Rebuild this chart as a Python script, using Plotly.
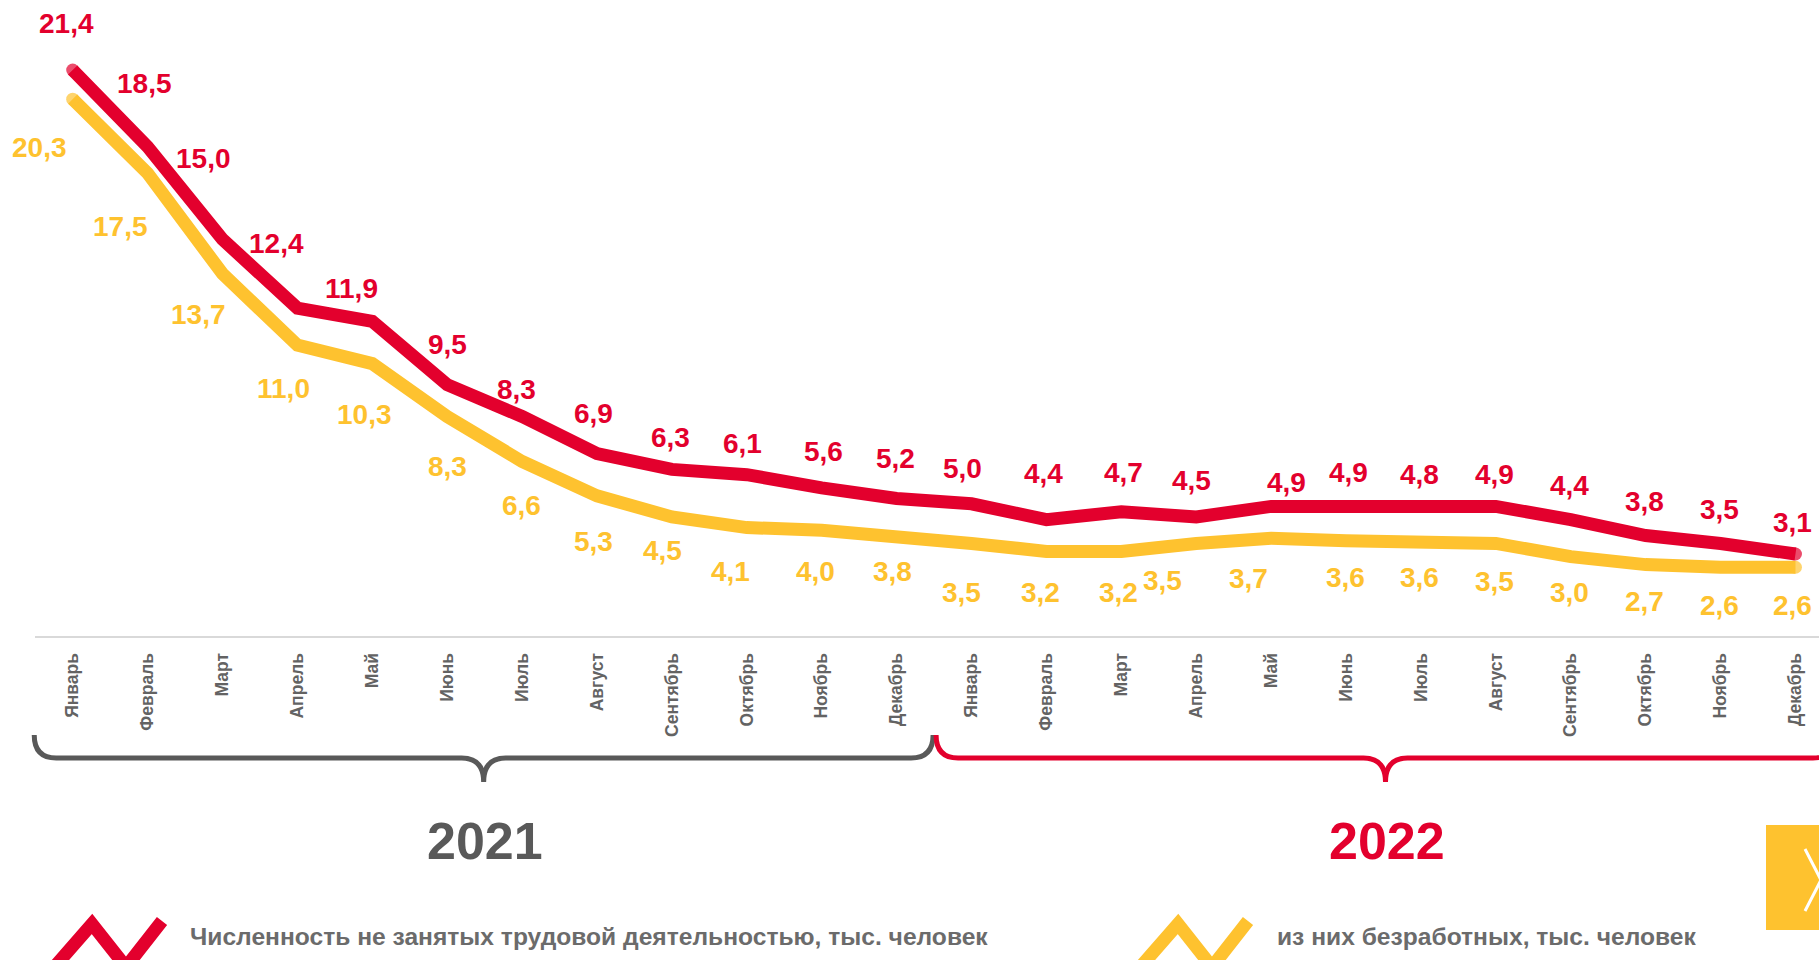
import plotly.graph_objects as go

# ---------------- data ----------------
months = ["Январь", "Февраль", "Март", "Апрель", "Май", "Июнь", "Июль", "Август",
          "Сентябрь", "Октябрь", "Ноябрь", "Декабрь"]
years = ["2021", "2022"]
not_employed = [21.4, 18.5, 15.0, 12.4, 11.9, 9.5, 8.3, 6.9, 6.3, 6.1, 5.6, 5.2,
                5.0, 4.4, 4.7, 4.5, 4.9, 4.9, 4.8, 4.9, 4.4, 3.8, 3.5, 3.1]
unemployed = [20.3, 17.5, 13.7, 11.0, 10.3, 8.3, 6.6, 5.3, 4.5, 4.1, 4.0, 3.8,
              3.5, 3.2, 3.2, 3.5, 3.7, 3.6, 3.6, 3.5, 3.0, 2.7, 2.6, 2.6]
series_names = ["Численность не занятых трудовой деятельностью, тыс. человек",
                "из них безработных, тыс. человек"]

# label nudges (pixels, relative to the point)
red_dx = [-6, -3, -19, -21, -21, 0, -6, -4, -1, -4, 2, -1, -9, -3, 2, -5, 15, 2, -1, -1, -1, -1, -1, -3]
red_dy = [-47, -63, -81, -65, -33, -40, -27, -40, -32, -31, -36, -40, -35, -46, -39, -37, -24, -34, -35, -32, -34, -34, -34, -32]
yel_dx = [-33, -27, -24, -14, -8, 0, -1, -4, -9, -16, -6, -4, -10, -6, -3, -34, -23, -1, -1, -1, -1, -1, -1, -3]
yel_dy = [48, 53, 41, 43, 51, 50, 44, 46, 33, 44, 41, 36, 49, 41, 41, 37, 40, 37, 37, 38, 36, 37, 38, 38]

# ---------------- style ----------------
RED = "#E3002D"
YEL = "#FEC22F"
GRAY = "#595959"
TICK_GRAY = "#636363"
LEG_GRAY = "#6b6b6b"
FONT = "Liberation Sans, Arial"
W, H = 1819, 960
ML, MT, MB = 35, 0, 324
PW, PH = W - ML, H - MT - MB
XMIN, XMAX = -0.503, 23.314
YMAX = 24.05

def px(i):
    return ML + (i - XMIN) / (XMAX - XMIN) * PW

def paper_x(p):
    return (p - ML) / PW

def paper_y(p):
    return (MT + PH - p) / PH

n = len(not_employed)
x_idx = list(range(n))
labels = [m for _ in years for m in months]

fig = go.Figure()
cap_sizes = [13] + [0] * (n - 2) + [13]
fig.add_trace(go.Scatter(x=x_idx, y=unemployed, mode="lines+markers",
                         line=dict(color=YEL, width=13),
                         marker=dict(size=cap_sizes, color=YEL, line=dict(width=0)),
                         hoverinfo="skip", showlegend=False))
fig.add_trace(go.Scatter(x=x_idx, y=not_employed, mode="lines+markers",
                         line=dict(color=RED, width=13),
                         marker=dict(size=cap_sizes, color=RED, line=dict(width=0)),
                         hoverinfo="skip", showlegend=False))

def fmt(v):
    return f"{v:.1f}".replace(".", ",")

annotations = []
for i in range(n):
    annotations.append(dict(x=i, y=not_employed[i], xref="x", yref="y", text=fmt(not_employed[i]),
                            showarrow=False, xshift=red_dx[i], yshift=-red_dy[i],
                            xanchor="center", yanchor="middle",
                            font=dict(family=FONT, size=28, color=RED, weight="bold")))
    annotations.append(dict(x=i, y=unemployed[i], xref="x", yref="y", text=fmt(unemployed[i]),
                            showarrow=False, xshift=yel_dx[i], yshift=-yel_dy[i],
                            xanchor="center", yanchor="middle",
                            font=dict(family=FONT, size=28, color=YEL, weight="bold")))

# year labels
year_colors = [GRAY, RED]
year_nudge = [0, 3]
for k, yr in enumerate(years):
    cx = px(12 * k + 5.5) + year_nudge[k]
    annotations.append(dict(x=paper_x(cx), y=paper_y(841), xref="paper", yref="paper", text=yr,
                            showarrow=False, xanchor="center", yanchor="middle",
                            font=dict(family=FONT, size=52, color=year_colors[k], weight="bold")))

# legend texts
leg_text_x = [188, 1275]
for k, name in enumerate(series_names):
    annotations.append(dict(x=paper_x(leg_text_x[k]), y=paper_y(936), xref="paper", yref="paper", text=name,
                            showarrow=False, xanchor="left", yanchor="middle",
                            font=dict(family=FONT, size=24.6, color=LEG_GRAY, weight="bold")))

shapes = []
# curly braces
def brace_path(xl, xr):
    xm = (xl + xr) / 2
    yt, yh, yp, r = 735, 758, 782, 22
    pts = [
        ("M", [(xl, yt)]),
        ("Q", [(xl, yh), (xl + r, yh)]),
        ("L", [(xm - r, yh)]),
        ("Q", [(xm, yh), (xm, yp)]),
        ("Q", [(xm, yh), (xm + r, yh)]),
        ("L", [(xr - r, yh)]),
        ("Q", [(xr, yh), (xr, yt)]),
    ]
    s = ""
    for cmd, coords in pts:
        s += cmd + " " + " ".join(f"{paper_x(a):.5f},{paper_y(b):.5f}" for a, b in coords) + " "
    return s.strip()

brace_colors = [GRAY, RED]
brace_nudge = [-1, 2]
for k in range(len(years)):
    xl = px(12 * k - 0.5) + brace_nudge[k]
    xr = px(12 * k + 11.5) + brace_nudge[k]
    shapes.append(dict(type="path", xref="paper", yref="paper", path=brace_path(xl, xr),
                       line=dict(color=brace_colors[k], width=5)))

# legend zigzag icons
def zig(x0):
    pts = [(x0 - 6, 972), (x0 + 36, 924), (x0 + 70, 967), (x0 + 106, 921)]
    return "M " + " L ".join(f"{paper_x(a):.5f},{paper_y(b):.5f}" for a, b in pts)

for k, x0 in enumerate([56, 1142]):
    shapes.append(dict(type="path", xref="paper", yref="paper", path=zig(x0),
                       line=dict(color=[RED, YEL][k], width=13)))

# yellow nav box with chevron
shapes.append(dict(type="rect", xref="paper", yref="paper",
                   x0=paper_x(1766), x1=paper_x(1840), y0=paper_y(930), y1=paper_y(825),
                   fillcolor=YEL, line=dict(width=0)))
shapes.append(dict(type="path", xref="paper", yref="paper",
                   path=f"M {paper_x(1805)},{paper_y(849)} L {paper_x(1821)},{paper_y(880)} L {paper_x(1805)},{paper_y(911)}",
                   line=dict(color="white", width=3)))

fig.update_layout(
    width=W, height=H,
    margin=dict(l=ML, r=0, t=MT, b=MB, pad=0),
    paper_bgcolor="white", plot_bgcolor="white",
    xaxis=dict(range=[XMIN, XMAX], tickmode="array", tickvals=x_idx, ticktext=labels,
               tickangle=-90, showgrid=False, zeroline=False,
               showline=True, linecolor="#d9d9d9", linewidth=2,
               ticks="", ticklabelstandoff=8,
               tickfont=dict(family=FONT, size=17.5, color=TICK_GRAY, weight="bold")),
    yaxis=dict(range=[0, YMAX], visible=False, showgrid=False, zeroline=False),
    annotations=annotations,
    shapes=shapes,
)

fig.write_html("out.html")
